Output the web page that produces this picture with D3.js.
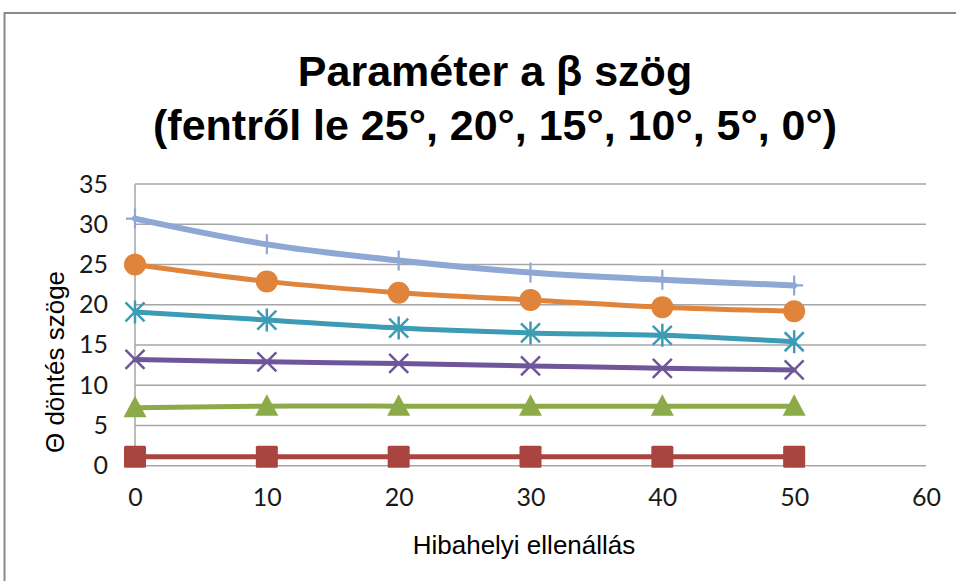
<!DOCTYPE html>
<html>
<head>
<meta charset="utf-8">
<script src="https://cdn.jsdelivr.net/npm/d3@7"></script>
<style>
  html, body { margin: 0; padding: 0; background: #fff; }
  svg { display: block; }
</style>
</head>
<body>
<svg id="chart" width="956" height="581"></svg>
<script>
// Fault resistance on the x axis
const resistance = [0, 10, 20, 30, 40, 50];

// Tilt angle Θ for each β angle (top to bottom: 25°, 20°, 15°, 10°, 5°, 0°)
const beta25 = [30.7, 27.5, 25.5, 24.0, 23.1, 22.4];
const beta20 = [25.0, 22.9, 21.5, 20.6, 19.7, 19.2];
const beta15 = [19.1, 18.1, 17.1, 16.5, 16.2, 15.4];
const beta10 = [13.2, 12.9, 12.7, 12.4, 12.1, 11.9];
const beta5  = [7.2, 7.4, 7.4, 7.4, 7.4, 7.4];
const beta0  = [1.1, 1.1, 1.1, 1.1, 1.1, 1.1];

const xTicks = [0, 10, 20, 30, 40, 50, 60];
const yTicks = [0, 5, 10, 15, 20, 25, 30, 35];

const series = [
  { values: beta25, color: "#8FA7D4", marker: "plus",     width: 6 },
  { values: beta20, color: "#E0843B", marker: "circle",   width: 5 },
  { values: beta15, color: "#3C9BB5", marker: "asterisk", width: 5 },
  { values: beta10, color: "#6F5599", marker: "cross",    width: 5 },
  { values: beta5,  color: "#8DAA49", marker: "triangle", width: 5 },
  { values: beta0,  color: "#A9443F", marker: "square",   width: 5 }
];

const svg = d3.select("#chart");
const plot = { left: 135, right: 926, top: 184, bottom: 465.7 };

const x = d3.scaleLinear().domain([0, 60]).range([plot.left, plot.right]);
const y = d3.scaleLinear().domain([0, 35]).range([plot.bottom, plot.top]);

// Chart area frame
svg.append("rect")
  .attr("x", 4.5).attr("y", 13)
  .attr("width", 1000).attr("height", 700)
  .attr("fill", "#fff")
  .attr("stroke", "#8a8a8a").attr("stroke-width", 2);

// Title
const title = svg.append("text")
  .attr("text-anchor", "middle")
  .attr("font-family", "'Liberation Sans', Arial, sans-serif")
  .attr("font-weight", "bold")
  .attr("font-size", 43)
  .attr("fill", "#000");
title.append("tspan").attr("x", 495).attr("y", 86).text("Paraméter a β szög");
title.append("tspan").attr("x", 495).attr("y", 140).text("(fentről le 25°, 20°, 15°, 10°, 5°, 0°)");

// Horizontal gridlines
svg.append("g")
  .selectAll("line")
  .data(yTicks)
  .join("line")
  .attr("x1", plot.left).attr("x2", plot.right)
  .attr("y1", d => y(d)).attr("y2", d => y(d))
  .attr("stroke", "#a6a6a6").attr("stroke-width", 1.5);

// Vertical axis line
svg.append("line")
  .attr("x1", plot.left).attr("x2", plot.left)
  .attr("y1", plot.top).attr("y2", plot.bottom)
  .attr("stroke", "#a6a6a6").attr("stroke-width", 1.5);

// Y axis tick labels
const yAxis = d3.axisLeft(y).tickValues(yTicks).tickSize(0).tickPadding(27);
const gy = svg.append("g").attr("transform", `translate(${plot.left},0)`).call(yAxis);
gy.select(".domain").remove();
gy.selectAll("text")
  .attr("font-family", "Lato, 'Open Sans', sans-serif")
  .attr("font-size", 25)
  .attr("fill", "#1a1a1a");

// X axis tick labels
const xAxis = d3.axisBottom(x).tickValues(xTicks).tickSize(0).tickPadding(23);
const gx = svg.append("g").attr("transform", `translate(0,${plot.bottom})`).call(xAxis);
gx.select(".domain").remove();
gx.selectAll("text")
  .attr("font-family", "Lato, 'Open Sans', sans-serif")
  .attr("font-size", 25)
  .attr("fill", "#1a1a1a");

// Axis titles
svg.append("text")
  .attr("x", 524).attr("y", 554)
  .attr("text-anchor", "middle")
  .attr("font-family", "'Liberation Sans', Arial, sans-serif")
  .attr("font-size", 26)
  .attr("fill", "#000")
  .text("Hibahelyi ellenállás");

svg.append("text")
  .attr("transform", "translate(64,362) rotate(-90)")
  .attr("text-anchor", "middle")
  .attr("font-family", "'Liberation Sans', Arial, sans-serif")
  .attr("font-size", 26)
  .attr("fill", "#000")
  .text("Θ döntés szöge");

// Smoothed series lines
const line = d3.line()
  .x((d, i) => x(resistance[i]))
  .y(d => y(d))
  .curve(d3.curveCatmullRom.alpha(0.5));

const gSeries = svg.append("g");
series.forEach(s => {
  gSeries.append("path")
    .attr("d", line(s.values))
    .attr("fill", "none")
    .attr("stroke", s.color)
    .attr("stroke-width", s.width)
    .attr("stroke-linecap", "round");
});

// Markers
function drawMarker(g, type, cx, cy, color) {
  if (type === "circle") {
    g.append("circle").attr("cx", cx).attr("cy", cy).attr("r", 11).attr("fill", color);
  } else if (type === "square") {
    g.append("rect").attr("x", cx - 11).attr("y", cy - 11)
      .attr("width", 22).attr("height", 22).attr("rx", 1.5).attr("fill", color);
  } else if (type === "triangle") {
    g.append("path")
      .attr("d", `M${cx},${cy - 12} L${cx + 11.5},${cy + 9.5} L${cx - 11.5},${cy + 9.5} Z`)
      .attr("fill", color);
  } else if (type === "plus") {
    g.append("path")
      .attr("d", `M${cx - 9},${cy} H${cx + 9} M${cx},${cy - 10} V${cy + 10}`)
      .attr("stroke", color).attr("stroke-width", 2.2).attr("fill", "none");
  } else if (type === "cross") {
    g.append("path")
      .attr("d", `M${cx - 9.5},${cy - 9.5} L${cx + 9.5},${cy + 9.5} M${cx - 9.5},${cy + 9.5} L${cx + 9.5},${cy - 9.5}`)
      .attr("stroke", color).attr("stroke-width", 2.5).attr("fill", "none");
  } else if (type === "asterisk") {
    g.append("path")
      .attr("d", `M${cx - 9.5},${cy - 9.5} L${cx + 9.5},${cy + 9.5} M${cx - 9.5},${cy + 9.5} L${cx + 9.5},${cy - 9.5} M${cx},${cy - 11.5} V${cy + 11.5}`)
      .attr("stroke", color).attr("stroke-width", 2.5).attr("fill", "none");
  }
}

const gMarkers = svg.append("g");
series.forEach(s => {
  s.values.forEach((v, i) => {
    drawMarker(gMarkers, s.marker, x(resistance[i]), y(v), s.color);
  });
});
</script>
</body>
</html>
